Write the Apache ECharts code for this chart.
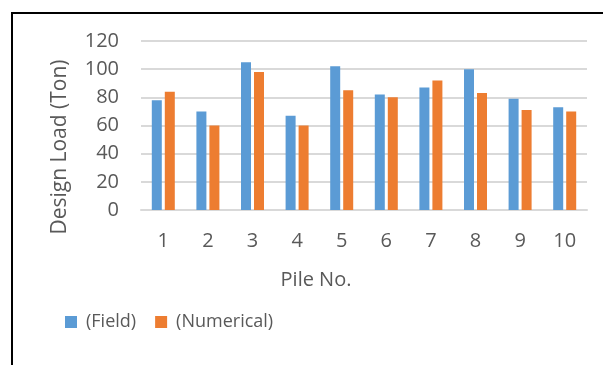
<!DOCTYPE html>
<html>
<head>
<meta charset="utf-8">
<script src="https://cdn.jsdelivr.net/npm/echarts@6/dist/echarts.min.js"></script>
<style>
  html, body { margin: 0; padding: 0; background: #fff; }
  #chart { width: 603px; height: 365px; }
</style>
</head>
<body>
<div id="chart"></div>
<script>
// pile numbers and design loads (Ton)
var piles = ['1', '2', '3', '4', '5', '6', '7', '8', '9', '10']
var fieldLoad = [78, 70, 105, 67, 102, 82, 87, 100, 79, 73]
var numericalLoad = [84, 60, 98, 60, 85, 80, 92, 83, 71, 70]

var textColor = '#595959'
var fontFamily = '"Open Sans", "Liberation Sans", sans-serif'

var chart = echarts.init(document.getElementById('chart'))
chart.setOption({
  animation: false,
  textStyle: { fontFamily: fontFamily },
  grid: {
    left: 141,
    right: 16,
    top: 41,
    bottom: 155
  },
  graphic: [
    // frame around the chart
    {
      type: 'rect',
      silent: true,
      shape: { x: 12, y: 13, width: 700, height: 400 },
      style: { fill: 'none', stroke: '#000', lineWidth: 2 }
    },
    {
      type: 'text',
      silent: true,
      x: 60,
      y: 147,
      rotation: Math.PI / 2,
      style: {
        text: 'Design Load (Ton)',
        fill: textColor,
        font: '21px ' + fontFamily,
        align: 'center',
        verticalAlign: 'middle'
      }
    },
    {
      type: 'text',
      silent: true,
      x: 316,
      y: 280,
      style: {
        text: 'Pile No.',
        fill: textColor,
        font: '20px ' + fontFamily,
        align: 'center',
        verticalAlign: 'middle'
      }
    }
  ],
  legend: {
    left: 65,
    top: 313,
    padding: 0,
    itemWidth: 12,
    itemHeight: 12,
    itemGap: 19,
    icon: 'rect',
    textStyle: {
      color: textColor,
      fontSize: 18,
      fontFamily: fontFamily,
      padding: [0, 0, 0, 4]
    },
    data: ['(Field)', '(Numerical)']
  },
  xAxis: {
    type: 'category',
    data: piles,
    axisLine: { lineStyle: { color: '#d9d9d9', width: 2 } },
    axisTick: { show: false },
    axisLabel: {
      color: textColor,
      fontSize: 20,
      margin: 21
    }
  },
  yAxis: {
    type: 'value',
    min: 0,
    max: 120,
    interval: 20,
    axisLine: { show: false },
    axisTick: { show: false },
    axisLabel: {
      color: textColor,
      fontSize: 20,
      margin: 22
    },
    splitLine: { lineStyle: { color: '#d9d9d9', width: 2 } }
  },
  series: [
    {
      name: '(Field)',
      type: 'bar',
      data: fieldLoad,
      barWidth: 10,
      barGap: '30%',
      itemStyle: { color: '#5B9BD5' }
    },
    {
      name: '(Numerical)',
      type: 'bar',
      data: numericalLoad,
      barWidth: 10,
      itemStyle: { color: '#ED7D31' }
    }
  ]
})
</script>
</body>
</html>
